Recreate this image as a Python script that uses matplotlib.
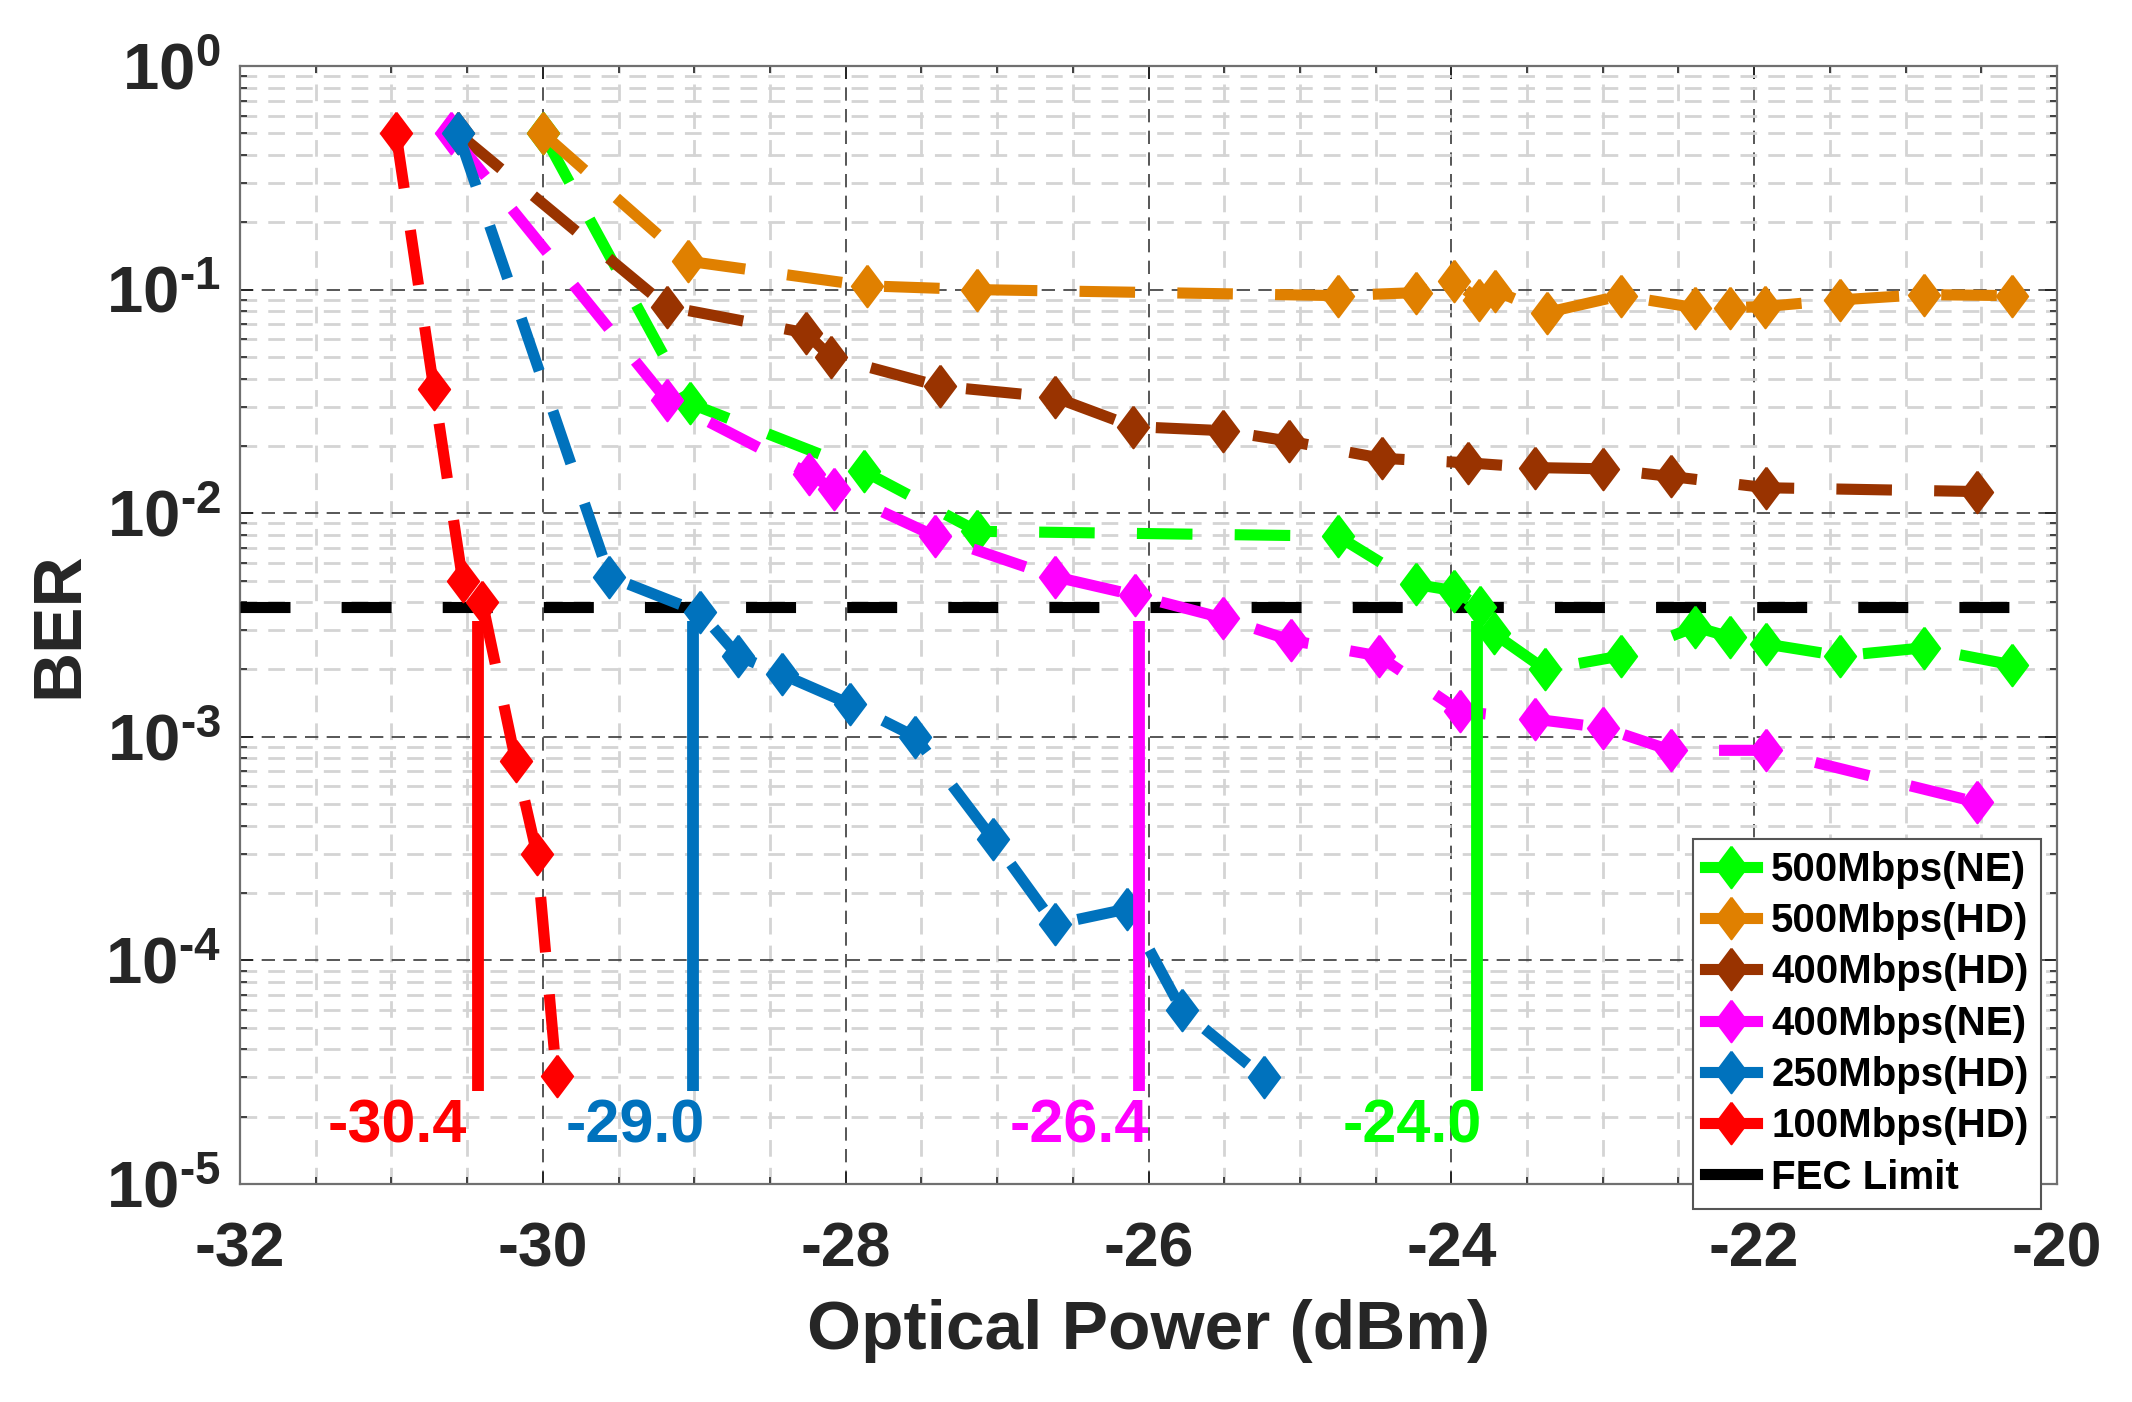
import matplotlib
matplotlib.use("Agg")
import matplotlib.pyplot as plt
from matplotlib.lines import Line2D
from matplotlib.ticker import MultipleLocator, LogLocator, NullFormatter, FixedLocator, FixedFormatter

plt.rcParams['font.family'] = ['Liberation Sans', 'DejaVu Sans']
plt.rcParams['font.weight'] = 'bold'
plt.rcParams['axes.unicode_minus'] = False
plt.rcParams['mathtext.fontset'] = 'custom'
plt.rcParams['mathtext.rm'] = 'Liberation Sans:bold'
plt.rcParams['mathtext.bf'] = 'Liberation Sans:bold'
plt.rcParams['mathtext.default'] = 'bf'

# ---- data ----
pw_500ne = [-30.0, -29.03, -27.88, -27.13, -24.75, -24.23, -23.98, -23.81, -23.72, -23.38,
            -22.88, -22.39, -22.16, -21.92, -21.43, -20.88, -20.30]
ber_500ne = [0.5, 0.031, 0.0154, 8.3e-3, 7.9e-3, 4.8e-3, 4.5e-3, 3.8e-3, 2.9e-3, 2.0e-3,
             2.3e-3, 3.1e-3, 2.8e-3, 2.6e-3, 2.3e-3, 2.5e-3, 2.1e-3]

pw_500hd = [-30.0, -29.04, -27.86, -27.13, -24.75, -24.23, -23.98, -23.82, -23.71, -23.37,
            -22.88, -22.39, -22.16, -21.93, -21.43, -20.88, -20.30]
ber_500hd = [0.5, 0.134, 0.104, 0.100, 0.094, 0.097, 0.109, 0.090, 0.099, 0.079,
             0.094, 0.083, 0.083, 0.084, 0.090, 0.095, 0.094]

pw_400hd = [-30.56, -29.18, -28.26, -28.10, -27.38, -26.62, -26.10, -25.51, -25.07, -24.46,
            -23.89, -23.45, -23.0, -22.55, -21.92, -20.53]
ber_400hd = [0.5, 0.084, 0.064, 0.050, 0.037, 0.033, 0.0244, 0.0234, 0.021, 0.0176,
             0.0168, 0.016, 0.0158, 0.0146, 0.013, 0.0125]

pw_400ne = [-30.61, -29.18, -28.24, -28.08, -27.41, -26.62, -26.09, -25.51, -25.06, -24.48,
            -23.94, -23.45, -23.0, -22.55, -21.92, -20.53]
ber_400ne = [0.5, 0.032, 0.015, 0.0128, 7.9e-3, 5.2e-3, 4.3e-3, 3.4e-3, 2.7e-3, 2.3e-3,
             1.3e-3, 1.2e-3, 1.1e-3, 8.7e-4, 8.7e-4, 5.1e-4]

pw_250hd = [-30.56, -29.56, -28.96, -28.71, -28.42, -27.97, -27.54, -27.03, -26.62, -26.14,
            -25.78, -25.24]
ber_250hd = [0.5, 5.2e-3, 3.6e-3, 2.3e-3, 1.9e-3, 1.4e-3, 1.0e-3, 3.5e-4, 1.45e-4, 1.7e-4,
             6.0e-5, 3.0e-5]

pw_100hd = [-30.97, -30.72, -30.53, -30.40, -30.18, -30.04, -29.91]
ber_100hd = [0.5, 0.036, 5.0e-3, 4.0e-3, 7.8e-4, 3.0e-4, 3.05e-5]

series_names = ['500Mbps(NE)', '500Mbps(HD)', '400Mbps(HD)', '400Mbps(NE)', '250Mbps(HD)', '100Mbps(HD)']
series_colors = ['#00FF00', '#E08000', '#993300', '#FF00FF', '#0072BD', '#FF0000']
series_x = [pw_500ne, pw_500hd, pw_400hd, pw_400ne, pw_250hd, pw_100hd]
series_y = [ber_500ne, ber_500hd, ber_400hd, ber_400ne, ber_250hd, ber_100hd]

fec_limit = 3.8e-3

# sensitivity markers (vertical lines) and their labels
sens_x = [-30.43, -29.01, -26.06, -23.83]
sens_text = ['-30.4', '-29.0', '-26.4', '-24.0']
sens_colors = ['#FF0000', '#0072BD', '#FF00FF', '#00FF00']
sens_text_x = [-30.50, -28.93, -26.00, -23.80]
sens_top, sens_bottom = 3.3e-3, 2.6e-5
sens_text_y = 1.8e-5

xticks = [-32, -30, -28, -26, -24, -22, -20]
yticks = [1e-5, 1e-4, 1e-3, 1e-2, 1e-1, 1e0]
ytick_labels = [r'$10^{\text{-}5}$', r'$10^{\text{-}4}$', r'$10^{\text{-}3}$',
                r'$10^{\text{-}2}$', r'$10^{\text{-}1}$', r'$10^{0}$']

# ---- figure ----
fig = plt.figure(figsize=(21.32, 14.02), dpi=100)
ax = fig.add_axes([0.1126, 0.1555, 0.8522, 0.7974])

diamond = [(0, 1), (0.75, 0), (0, -1), (-0.75, 0), (0, 1)]
dash = (0, (5, 3.8))

ax.plot([-32, -20], [fec_limit, fec_limit], color='black', lw=8, linestyle=(0, (4.5, 4.6)),
        solid_capstyle='butt', zorder=3)

for xs, ys, c in zip(series_x, series_y, series_colors):
    ax.plot(xs, ys, color=c, lw=8, linestyle=dash, marker=diamond, ms=30,
            mfc=c, mec=c, mew=1.5, zorder=4)

for x, c in zip(sens_x, sens_colors):
    ax.plot([x, x], [sens_top, sens_bottom], color=c, lw=8.5, solid_capstyle='butt', zorder=5)

for x, t, c in zip(sens_text_x, sens_text, sens_colors):
    ax.text(x, sens_text_y, t, color=c, fontsize=44, fontweight='bold', ha='right', va='center', zorder=6)

ax.set_yscale('log')
ax.set_xlim(-32, -20)
ax.set_ylim(1e-5, 1)
ax.xaxis.set_major_locator(FixedLocator(xticks))
ax.xaxis.set_minor_locator(MultipleLocator(0.5))
ax.yaxis.set_major_locator(FixedLocator(yticks))
ax.yaxis.set_major_formatter(FixedFormatter(ytick_labels))
ax.yaxis.set_minor_locator(LogLocator(base=10, subs=range(2, 10)))
ax.yaxis.set_minor_formatter(NullFormatter())

ax.grid(which='major', color='#3a3a3a', lw=1.2, linestyle=(0, (8, 5)), zorder=1)
ax.grid(which='minor', color='#d4d4d4', lw=2.0, linestyle=(0, (6, 4)), zorder=0)
ax.set_axisbelow(True)

ax.tick_params(which='both', direction='in', top=True, right=True, colors='#262626')
ax.tick_params(axis='x', labelsize=45, pad=26)
ax.tick_params(axis='y', labelsize=47, pad=14)
ax.tick_params(which='major', length=9, width=1.4)
ax.tick_params(which='minor', length=5, width=1.2)
for lab in ax.get_xticklabels() + ax.get_yticklabels():
    lab.set_fontweight('bold')
for sp in ax.spines.values():
    sp.set_color('#707070')
    sp.set_linewidth(1.6)

ax.set_xlabel('Optical Power (dBm)', fontsize=50, fontweight='bold', color='#262626', labelpad=14)
ax.set_ylabel('BER', fontsize=50, fontweight='bold', color='#262626', labelpad=10)

handles = [Line2D([], [], color=c, lw=8, marker=diamond, ms=30, mfc=c, mec=c, mew=1.5)
           for c in series_colors]
handles.append(Line2D([], [], color='black', lw=8))
leg = ax.legend(handles, series_names + ['FEC Limit'], loc='lower right',
                bbox_to_anchor=(0.991, -0.022), borderaxespad=0,
                prop={'weight': 'bold', 'size': 29}, handlelength=1.3, handletextpad=0.35,
                labelspacing=0.33, borderpad=0.3, fancybox=False, framealpha=1,
                edgecolor='#555555')
leg.get_frame().set_linewidth(1.5)
leg.set_zorder(10)

fig.savefig('out.png', dpi=100)
